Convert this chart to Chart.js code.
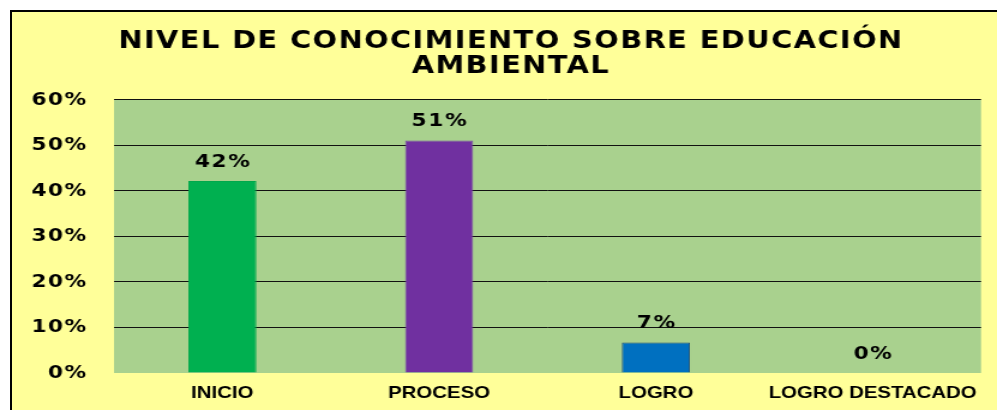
<!DOCTYPE html>
<html lang="es">
<head>
<meta charset="utf-8">
<title>Nivel de conocimiento sobre educación ambiental</title>
<script src="https://cdn.jsdelivr.net/npm/chart.js@4.4.1/dist/chart.umd.min.js"></script>
<style>
    html, body { margin: 0; padding: 0; background: #ffffff; overflow: hidden; }
    .chart-frame {
        position: absolute; left: 10px; top: 10px;
        width: 987px; height: 400px; box-sizing: border-box;
        border-top: 2px solid #000; border-left: 2px solid #000;
        background: #FFFF99; overflow: hidden;
    }
    /* the original picture is stretched sideways, so is this one */
    .chart-stretch { width: 821px; height: 398px; transform: scaleX(1.19976); transform-origin: 0 0; }
    #nivelChart { display: block; }
</style>
</head>
<body>
<div class="chart-frame"><div class="chart-stretch"><canvas id="nivelChart" width="821" height="398"></canvas></div></div>
<script>
// --- Chart data ---
const categories = ['INICIO', 'PROCESO', 'LOGRO', 'LOGRO DESTACADO'];
const percentages = [42.2, 51.1, 6.7, 0];
const yTickValues = [0, 10, 20, 30, 40, 50, 60];
const titleLines = ['NIVEL DE CONOCIMIENTO SOBRE EDUCACIÓN', 'AMBIENTAL'];

// --- Colours ---
const barColors = ['#00B050', '#7030A0', '#0070C0', '#4F81BD'];
const barBorders = ['#00A84C', '#7A4AA8', '#1F4E79', '#1F4E79'];
const plotAreaColor = '#A9D18E';

document.addEventListener('DOMContentLoaded', function() {

    const canvas = document.getElementById('nivelChart');
    const ctx = canvas.getContext('2d');

    // paints the green plot area, value labels and the slightly wider lettering
    const plotDecor = {
        id: 'plotDecor',
        afterLayout(chart) {
            // title sits a little right of the canvas centre in the original
            if (chart.titleBlock) {
                chart.titleBlock.left += 8;
                chart.titleBlock.right += 8;
            }
        },
        beforeDraw(chart) {
            const a = chart.chartArea;
            const c = chart.ctx;
            c.save();
            c.fillStyle = plotAreaColor;
            c.fillRect(a.left, a.top, a.right - a.left, a.bottom - a.top);
            c.restore();
            c.letterSpacing = '1.2px'; // title + y ticks
        },
        afterDatasetsDraw(chart) {
            const c = chart.ctx;
            const meta = chart.getDatasetMeta(0);
            c.save();
            c.letterSpacing = '1.4px';
            c.font = 'bold 18px "DejaVu Sans"';
            c.fillStyle = '#000';
            c.textAlign = 'center';
            c.textBaseline = 'middle';
            meta.data.forEach((bar, i) => {
                c.fillText(Math.round(percentages[i]) + '%', bar.x + 0.7, bar.y - 19);
            });
            c.restore();
            c.letterSpacing = '0px'; // x labels drawn after datasets (z: 1)
        },
        afterDraw(chart) {
            chart.ctx.letterSpacing = '0px';
        }
    };

    new Chart(ctx, {
        type: 'bar',
        data: {
            labels: categories,
            datasets: [{
                data: percentages,
                backgroundColor: barColors,
                borderColor: barBorders,
                borderWidth: 1,
                categoryPercentage: 1,
                barPercentage: 0.314
            }]
        },
        options: {
            responsive: false,
            animation: false,
            layout: { padding: { left: 8, right: 13.3, top: 0, bottom: 0 } },
            scales: {
                y: {
                    min: 0,
                    max: 60,
                    afterBuildTicks: (scale) => {
                        scale.ticks = yTickValues.map(v => ({ value: v }));
                    },
                    afterFit: (scale) => { scale.width = 77; },
                    border: { display: false },
                    grid: {
                        drawTicks: false,
                        color: (c) => c.tick && c.tick.value === 0 ? 'rgba(0,0,0,0)' : '#111111',
                        lineWidth: 1
                    },
                    ticks: {
                        padding: 22,
                        color: '#000',
                        font: { family: 'DejaVu Sans', size: 18, weight: 'bold' },
                        callback: (v) => v + '%'
                    }
                },
                x: {
                    afterFit: (scale) => { scale.height = 37; },
                    border: { display: false },
                    grid: { display: false, drawTicks: false },
                    ticks: {
                        z: 1,
                        padding: 10,
                        color: '#000',
                        maxRotation: 0,
                        autoSkip: false,
                        font: { family: 'Liberation Sans', size: 17, weight: 'bold' }
                    }
                }
            },
            plugins: {
                legend: { display: false },
                tooltip: { enabled: false },
                title: {
                    display: true,
                    text: titleLines,
                    color: '#000',
                    font: { family: 'DejaVu Sans', size: 24, weight: 'bold', lineHeight: 1.06 },
                    padding: { top: 17, bottom: 20 }
                }
            }
        },
        plugins: [plotDecor]
    });

}); // End DOMContentLoaded
</script>
</body>
</html>
